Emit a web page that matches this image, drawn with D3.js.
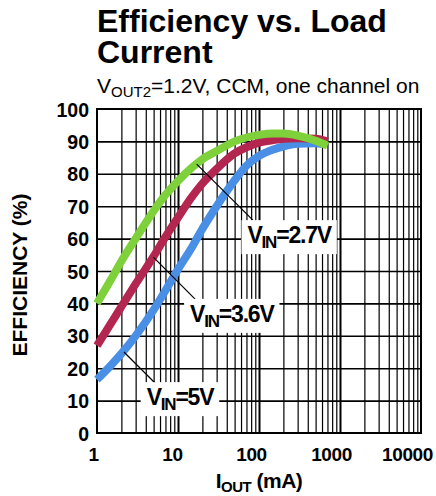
<!DOCTYPE html>
<html>
<head>
<meta charset="utf-8">
<script src="https://cdn.jsdelivr.net/npm/d3@7/dist/d3.min.js"></script>
<style>
  html, body { margin: 0; padding: 0; background: #fff; }
  svg { display: block; }
  text { font-family: "Liberation Sans", Arial, Helvetica, sans-serif; fill: #000; }
</style>
</head>
<body>
<svg id="chart" width="436" height="496"></svg>
<script>
// Load current (mA) sample points and efficiency (%) per input voltage
const currentMA = [1, 1.5, 2, 3, 5, 7, 10, 15, 20, 30, 50, 70, 100, 150, 200, 300, 500, 700];
const eff27 = [40, 47.5, 53, 60, 68.5, 73.5, 77.8, 82, 84.5, 87, 90, 91.2, 92, 92.4, 92.4, 91.8, 90.2, 88.7];
const eff36 = [27, 34, 39, 46, 54.5, 60.5, 66.5, 73, 77, 81.5, 86.3, 88.2, 89.6, 90.4, 90.8, 91, 90.8, 90];
const currentMA5 = [1, 1.5, 2, 3, 5, 7, 10, 15, 20, 30, 50, 70, 100, 150, 200, 300, 500, 600];
const eff5 = [16.5, 21, 24.5, 30, 38, 44, 50.5, 57.5, 63, 70, 78, 82.5, 85.5, 87.5, 88.5, 89.3, 89.4, 89.2];

const xTicks = [1, 10, 100, 1000, 10000];
const xTickLabels = ["1", "10", "100", "1000", "10000"];
const yTicks = [0, 10, 20, 30, 40, 50, 60, 70, 80, 90, 100];

const seriesNames = ["2.7V", "3.6V", "5V"];
const seriesColors = ["#7fd13b", "#b3264f", "#4a8fe6"];

// Callouts: curve point, leader end and text anchor, in (mA, %)
const calloutFrom = [[17, 83], [4.96, 54.3], [2.15, 25]];
const calloutTo = [[84, 65.7], [17.2, 40.7], [6.0, 13.9]];
const calloutText = [[72, 58.6], [14.1, 34.3], [4.1, 8.6]];

const svg = d3.select("#chart");
const plotL = 97, plotR = 421, plotT = 109, plotB = 433;
// horizontal nudge of the x tick labels (they sit slightly left of their gridlines)
const xLabelNudge = [-4, -6, -8, -9, -14];

const x = d3.scaleLog().domain([1, 10000]).range([plotL, plotR]);
const y = d3.scaleLinear().domain([0, 100]).range([plotB, plotT]);

// Title block
const title = svg.append("g").attr("font-weight", "bold");
title.append("text").attr("x", 97).attr("y", 32).attr("font-size", 32).text("Efficiency vs. Load");
title.append("text").attr("x", 97).attr("y", 63).attr("font-size", 32).text("Current");

const sub = svg.append("text").attr("x", 97).attr("y", 93).attr("font-size", 21);
sub.append("tspan").text("V");
sub.append("tspan").attr("font-size", 15).attr("dy", 4).text("OUT2");
sub.append("tspan").attr("dy", -4).text("=1.2V, CCM, one channel on");

// Grid: minor and major verticals, horizontals
const minorVals = [];
for (let d = 1; d < 10000; d *= 10) for (let m = 2; m <= 9; m++) minorVals.push(d * m);
const majorVals = [10, 100, 1000];

svg.append("g").attr("transform", `translate(0,${plotB})`)
  .call(d3.axisBottom(x).tickValues(minorVals).tickSize(-(plotB - plotT)).tickFormat(""))
  .call(g => g.select(".domain").remove())
  .call(g => g.selectAll("line").attr("stroke", "#000").attr("stroke-width", 1.2));

svg.append("g").attr("transform", `translate(0,${plotB})`)
  .call(d3.axisBottom(x).tickValues(majorVals).tickSize(-(plotB - plotT)).tickFormat(""))
  .call(g => g.select(".domain").remove())
  .call(g => g.selectAll("line").attr("stroke", "#000").attr("stroke-width", 2));

svg.append("g").attr("transform", `translate(${plotL},0)`)
  .call(d3.axisLeft(y).tickValues(yTicks.slice(1, -1)).tickSize(-(plotR - plotL)).tickFormat(""))
  .call(g => g.select(".domain").remove())
  .call(g => g.selectAll("line").attr("stroke", "#000").attr("stroke-width", 1.6));

// Frame
svg.append("rect").attr("x", plotL).attr("y", plotT).attr("width", plotR - plotL)
  .attr("height", plotB - plotT).attr("fill", "none").attr("stroke", "#000").attr("stroke-width", 2);

// Tick labels
svg.append("g").attr("transform", `translate(${plotL},0)`)
  .call(d3.axisLeft(y).tickValues(yTicks).tickSize(0).tickPadding(8))
  .call(g => g.select(".domain").remove())
  .call(g => g.selectAll("text").attr("font-size", 19.5).attr("font-weight", "bold")
    .attr("dy", "0.36em")
    .style("font-family", "'Liberation Sans', Arial, sans-serif"));

svg.append("g").attr("transform", `translate(0,${plotB})`)
  .call(d3.axisBottom(x).tickValues(xTicks).tickSize(0).tickPadding(15)
    .tickFormat((d, i) => xTickLabels[i]))
  .call(g => g.select(".domain").remove())
  .call(g => g.selectAll("text").attr("font-size", 19).attr("font-weight", "bold")
    .attr("letter-spacing", -0.4).attr("dx", (d, i) => xLabelNudge[i])
    .style("font-family", "'Liberation Sans', Arial, sans-serif"));

// Axis titles
const xt = svg.append("text").attr("x", 259).attr("y", 488).attr("text-anchor", "middle")
  .attr("font-size", 21).attr("font-weight", "bold").attr("letter-spacing", -0.5);
xt.append("tspan").text("I");
xt.append("tspan").attr("font-size", 15).attr("dy", 4).text("OUT");
xt.append("tspan").attr("dy", -4).text(" (mA)");

svg.append("text").attr("transform", "translate(26.5,275) rotate(-90)")
  .attr("text-anchor", "middle").attr("font-size", 21).attr("font-weight", "bold")
  .text("EFFICIENCY (%)");

// Curves, drawn 5V first so the 2.7V trace sits on top
const line = d3.line().x(d => x(d[0])).y(d => y(d[1])).curve(d3.curveMonotoneX);
const series = [
  d3.zip(currentMA5, eff5),
  d3.zip(currentMA, eff36),
  d3.zip(currentMA, eff27)
];
const colorsInOrder = [seriesColors[2], seriesColors[1], seriesColors[0]];
svg.append("g").selectAll("path").data(series).join("path")
  .attr("d", line).attr("fill", "none")
  .attr("stroke", (d, i) => colorsInOrder[i]).attr("stroke-width", 8)
  .attr("stroke-linecap", "butt");

// Callouts with white backing boxes
const ann = svg.append("g");
seriesNames.forEach((name, i) => {
  ann.append("line")
    .attr("x1", x(calloutFrom[i][0])).attr("y1", y(calloutFrom[i][1]))
    .attr("x2", x(calloutTo[i][0])).attr("y2", y(calloutTo[i][1]))
    .attr("stroke", "#000").attr("stroke-width", 1.2);
  const g = ann.append("g");
  const t = g.append("text").attr("x", x(calloutText[i][0])).attr("y", y(calloutText[i][1]))
    .attr("font-size", 23).attr("font-weight", "bold").attr("letter-spacing", -1.2);
  t.append("tspan").text("V");
  t.append("tspan").attr("font-size", 17).attr("dy", 5).text("IN");
  t.append("tspan").attr("dy", -5).text("=" + name);
  const b = t.node().getBBox();
  g.insert("rect", "text").attr("x", b.x - 6).attr("y", b.y - 2)
    .attr("width", b.width + 10).attr("height", b.height + 4).attr("fill", "#fff");
});
</script>
</body>
</html>
